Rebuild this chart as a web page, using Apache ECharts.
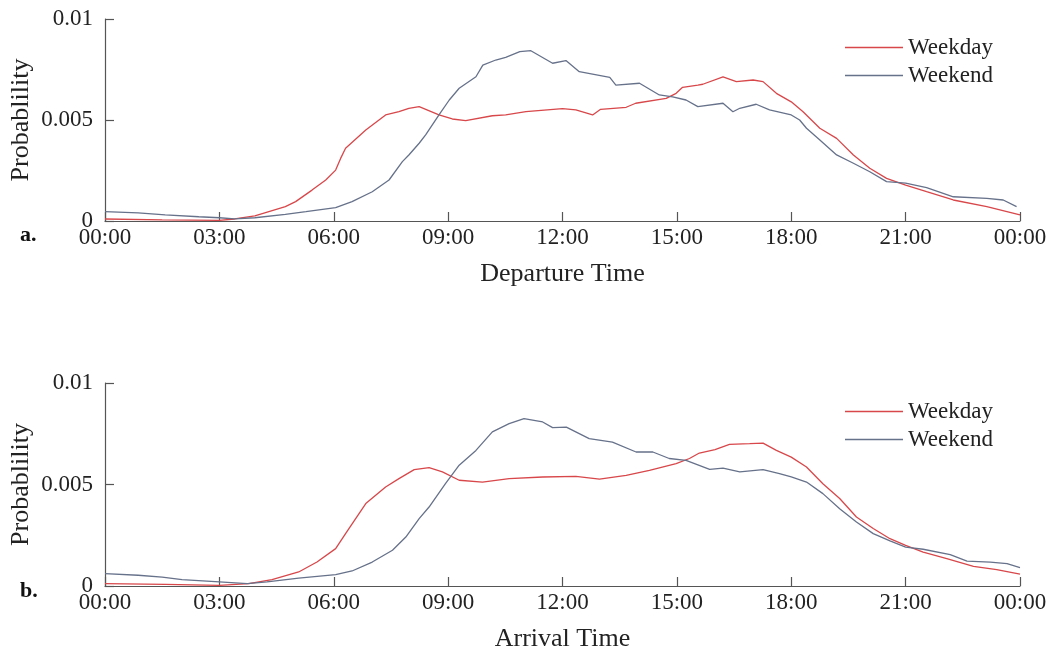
<!DOCTYPE html>
<html>
<head>
<meta charset="utf-8">
<script src="https://cdn.jsdelivr.net/npm/echarts@6/dist/echarts.min.js"></script>
<style>
  html, body { margin: 0; padding: 0; background: #fff; }
  #chart { width: 1048px; height: 653px; }
</style>
</head>
<body>
<div id="chart"></div>
<script>
// Hour-of-day tick marks (00:00 .. 24:00, every 3 hours)
const hourTicks = [0, 3, 6, 9, 12, 15, 18, 21, 24];
const seriesNames = ['Weekday', 'Weekend'];
const panelTitles = ['Departure Time', 'Arrival Time'];
const panelTags = ['a.', 'b.'];

// Panel a: departure time distributions (hour, probability)
const depWeekdayHours = [0, 1.5, 3, 3.4, 3.93, 4.73, 5.0, 5.43, 5.79, 6.05, 6.18, 6.31, 6.84, 7.36, 7.71, 7.97, 8.24, 8.76, 9.11, 9.46, 10.16, 10.51, 11.04, 12.0, 12.35, 12.79, 13.0, 13.67, 13.92, 14.72, 14.98, 15.15, 15.55, 15.68, 16.21, 16.56, 17.0, 17.26, 17.61, 18.0, 18.31, 18.75, 19.19, 19.63, 20.06, 20.5, 21.0, 21.55, 22.25, 23.13, 24];
const depWeekday = [0.00010, 0.00006, 0.00003, 0.00010, 0.00025, 0.00071, 0.00096, 0.00153, 0.00203, 0.00252, 0.00310, 0.00360, 0.00450, 0.00525, 0.00541, 0.00558, 0.00566, 0.00525, 0.00505, 0.00497, 0.00521, 0.00525, 0.00541, 0.00556, 0.00550, 0.00525, 0.00553, 0.00563, 0.00583, 0.00607, 0.00632, 0.00662, 0.00673, 0.00677, 0.00714, 0.00690, 0.00698, 0.00690, 0.00632, 0.00590, 0.00541, 0.00459, 0.00409, 0.00327, 0.00261, 0.00211, 0.00178, 0.00145, 0.00104, 0.00071, 0.00030];

const depWeekendHours = [0, 0.87, 1.58, 2.46, 3.0, 3.4, 3.93, 4.73, 5.27, 6.05, 6.48, 7.01, 7.45, 7.8, 7.97, 8.24, 8.41, 8.76, 9.03, 9.29, 9.73, 9.91, 10.25, 10.51, 10.88, 11.17, 11.74, 12.09, 12.44, 13.24, 13.4, 14.02, 14.54, 14.89, 15.24, 15.55, 16.21, 16.47, 16.65, 17.08, 17.43, 18.0, 18.22, 18.4, 18.75, 19.19, 19.63, 20.06, 20.5, 21.0, 21.55, 22.25, 23.13, 23.56, 23.91];
const depWeekend = [0.00046, 0.00040, 0.00030, 0.00021, 0.00016, 0.00011, 0.00016, 0.00033, 0.00046, 0.00066, 0.00096, 0.00145, 0.00203, 0.00294, 0.00327, 0.00385, 0.00426, 0.00525, 0.00599, 0.00657, 0.00714, 0.00772, 0.00797, 0.00810, 0.00838, 0.00843, 0.00781, 0.00794, 0.00739, 0.00711, 0.00673, 0.00682, 0.00624, 0.00615, 0.00599, 0.00566, 0.00583, 0.00541, 0.00558, 0.00578, 0.00550, 0.00525, 0.00500, 0.00459, 0.00401, 0.00327, 0.00286, 0.00244, 0.00195, 0.00187, 0.00165, 0.00120, 0.00112, 0.00104, 0.00071];

// Panel b: arrival time distributions (hour, probability)
const arrWeekdayHours = [0, 1.58, 3.0, 3.77, 4.38, 5.08, 5.56, 6.05, 6.31, 6.84, 7.36, 7.71, 8.11, 8.5, 8.85, 9.29, 9.9, 10.6, 11.48, 12.35, 12.97, 13.67, 14.28, 14.98, 15.33, 15.59, 16.0, 16.38, 16.91, 17.26, 17.61, 18.0, 18.4, 18.83, 19.27, 19.71, 20.15, 20.59, 21.0, 21.46, 22.08, 22.78, 23.39, 24];
const arrWeekday = [0.00012, 0.00008, 0.00003, 0.00012, 0.00031, 0.00069, 0.00118, 0.00184, 0.00258, 0.00406, 0.00488, 0.00529, 0.00573, 0.00583, 0.00562, 0.00521, 0.00512, 0.00529, 0.00537, 0.00540, 0.00526, 0.00545, 0.00570, 0.00603, 0.00628, 0.00655, 0.00672, 0.00698, 0.00701, 0.00704, 0.00668, 0.00635, 0.00586, 0.00504, 0.00431, 0.00340, 0.00283, 0.00233, 0.00200, 0.00167, 0.00135, 0.00097, 0.00081, 0.00058];

const arrWeekendHours = [0, 0.87, 1.5, 2.02, 3.0, 3.73, 4.25, 5.08, 6.05, 6.48, 7.01, 7.54, 7.89, 8.24, 8.5, 8.93, 9.29, 9.73, 10.16, 10.6, 10.99, 11.48, 11.74, 12.1, 12.7, 13.31, 13.93, 14.37, 14.8, 15.24, 15.86, 16.21, 16.65, 17.26, 17.69, 18.0, 18.4, 18.83, 19.27, 19.71, 20.15, 20.59, 21.0, 21.46, 22.17, 22.61, 23.22, 23.66, 24];
const arrWeekend = [0.00061, 0.00053, 0.00044, 0.00031, 0.00020, 0.00012, 0.00020, 0.00039, 0.00056, 0.00074, 0.00118, 0.00176, 0.00241, 0.00332, 0.00389, 0.00504, 0.00595, 0.00668, 0.00759, 0.00800, 0.00825, 0.00808, 0.00780, 0.00783, 0.00726, 0.00709, 0.00660, 0.00660, 0.00628, 0.00619, 0.00575, 0.00581, 0.00562, 0.00573, 0.00554, 0.00537, 0.00512, 0.00455, 0.00381, 0.00315, 0.00258, 0.00222, 0.00192, 0.00181, 0.00155, 0.00123, 0.00118, 0.00110, 0.00091];

const colors = ['#d8474a', '#66718a'];
const FONT = '"Liberation Serif", "Times New Roman", serif';
const TEXT = '#222';
const AXIS = '#555';

const pairs = (hs, vs) => hs.map((h, i) => [h, vs[i]]);
const hhmm = h => String(h % 24).padStart(2, '0') + ':00';

const grids = [
  { left: 105, right: 28, top: 19, height: 202, outerBoundsMode: 'none', containLabel: false },
  { left: 105, right: 28, top: 383, height: 203, outerBoundsMode: 'none', containLabel: false }
];

function xAxisFor(i) {
  return {
    type: 'value', gridIndex: i, min: 0, max: 24, interval: 3,
    name: panelTitles[i], nameLocation: 'middle', nameGap: 40, nameMoveOverlap: false,
    nameTextStyle: { fontFamily: FONT, fontSize: 26, color: TEXT },
    axisLine: { lineStyle: { color: AXIS, width: 1.2 } },
    axisTick: { inside: true, length: 9, lineStyle: { color: AXIS, width: 1.2 } },
    axisLabel: { fontFamily: FONT, fontSize: 23, color: TEXT, margin: 5, formatter: v => hhmm(v), customValues: hourTicks },
    splitLine: { show: false }
  };
}

function yAxisFor(i) {
  return {
    type: 'value', gridIndex: i, min: 0, max: 0.01, interval: 0.005,
    name: 'Probablility', nameLocation: 'middle', nameGap: 71, nameMoveOverlap: false,
    nameTextStyle: { fontFamily: FONT, fontSize: 26, color: TEXT },
    axisLine: { show: true, lineStyle: { color: AXIS, width: 1.2 } },
    axisTick: { show: true, inside: true, length: 9, lineStyle: { color: AXIS, width: 1.2 } },
    axisLabel: { fontFamily: FONT, fontSize: 23, color: TEXT, margin: 12 },
    splitLine: { show: false }
  };
}

function lineSeries(name, idx, data, color) {
  return {
    name, type: 'line', xAxisIndex: idx, yAxisIndex: idx, data,
    symbol: 'none', smooth: false, animation: false,
    lineStyle: { color, width: 1.3 }, itemStyle: { color }
  };
}

function legendFor(top) {
  return {
    data: seriesNames, orient: 'vertical', left: 840, top,
    itemWidth: 58, itemHeight: 14, itemGap: 5,
    icon: 'path://M0,0 L58,0 L58,1.6 L0,1.6 Z',
    textStyle: { fontFamily: FONT, fontSize: 23, color: TEXT, lineHeight: 23 }
  };
}

const chart = echarts.init(document.getElementById('chart'), null, { renderer: 'canvas' });
chart.setOption({
  backgroundColor: '#fff',
  animation: false,
  color: colors,
  grid: grids,
  xAxis: [xAxisFor(0), xAxisFor(1)],
  yAxis: [yAxisFor(0), yAxisFor(1)],
  legend: [legendFor(31), legendFor(395)],
  graphic: [
    { type: 'text', left: 20, top: 224, style: { text: panelTags[0], font: 'bold 22px ' + FONT, fill: '#111' } },
    { type: 'text', left: 20, top: 580, style: { text: panelTags[1], font: 'bold 22px ' + FONT, fill: '#111' } }
  ],
  series: [
    lineSeries(seriesNames[0], 0, pairs(depWeekdayHours, depWeekday), colors[0]),
    lineSeries(seriesNames[1], 0, pairs(depWeekendHours, depWeekend), colors[1]),
    lineSeries(seriesNames[0], 1, pairs(arrWeekdayHours, arrWeekday), colors[0]),
    lineSeries(seriesNames[1], 1, pairs(arrWeekendHours, arrWeekend), colors[1])
  ]
});
</script>
</body>
</html>
